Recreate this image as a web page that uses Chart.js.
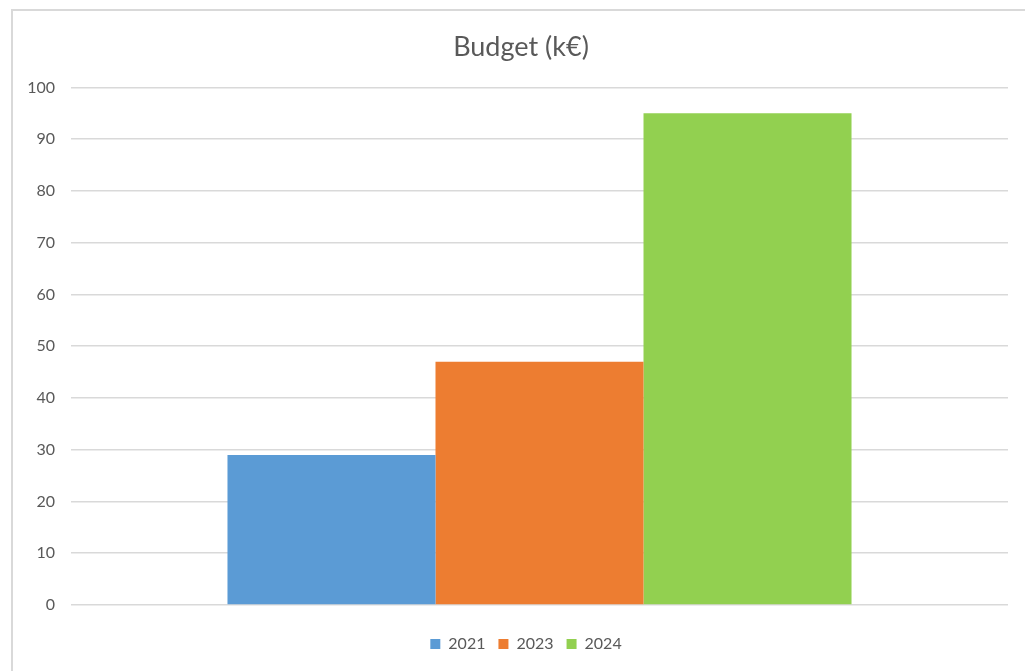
<!DOCTYPE html>
<html>
<head>
<meta charset="utf-8">
<script src="https://cdn.jsdelivr.net/npm/chart.js@4/dist/chart.umd.min.js"></script>
<style>
html,body{margin:0;padding:0;background:#fff;overflow:hidden;}
#frame{position:absolute;left:11px;top:9px;width:1100px;height:700px;border:2px solid #d9d9d9;box-sizing:border-box;}
#wrap{position:absolute;left:0;top:0;width:1025px;height:671px;}
</style>
</head>
<body>
<div id="frame"></div>
<div id="wrap"><canvas id="c" width="1025" height="671"></canvas></div>
<script>
const categories = [''];
const seriesNames = ['2021', '2023', '2024'];
const seriesValues = [[29], [47], [95]];
const seriesColors = ['#5B9BD5', '#ED7D31', '#92D050'];
const titleText = 'Budget (k€)';

const FONT = 'Lato, "Open Sans", sans-serif';
const datasets = seriesNames.map((n, i) => ({
  label: n,
  data: seriesValues[i],
  backgroundColor: seriesColors[i],
  borderWidth: 0,
  barPercentage: 1.0,
  categoryPercentage: 0.666
}));

const shiftBlocks = {
  id: 'shiftBlocks',
  afterLayout(chart) {
    if (chart.legend) { chart.legend.left += 22; chart.legend.right += 22; }
    if (chart.titleBlock) { chart.titleBlock.left += 17; chart.titleBlock.right += 17; }
  }
};

new Chart(document.getElementById('c'), {
  type: 'bar',
  data: { labels: categories, datasets },
  plugins: [shiftBlocks],
  options: {
    responsive: false,
    animation: false,
    layout: { padding: { left: 0, right: 17, top: 0, bottom: 9 } },
    plugins: {
      title: {
        display: true,
        text: titleText,
        color: '#595959',
        font: { family: FONT, size: 27, weight: 'normal' },
        padding: { top: 31, bottom: 24 }
      },
      legend: {
        position: 'bottom',
        labels: {
          color: '#595959',
          font: { family: FONT, size: 16 },
          boxWidth: 10,
          boxHeight: 10,
          padding: 13
        }
      },
      tooltip: { enabled: false }
    },
    scales: {
      x: {
        grid: { display: false },
        border: { display: false },
        ticks: { display: false },
        afterFit: (s) => { s.height = 18; }
      },
      y: {
        min: 0,
        max: 100,
        ticks: {
          stepSize: 10,
          color: '#595959',
          font: { family: FONT, size: 16 },
          padding: 16
        },
        grid: { color: '#d9d9d9', lineWidth: 1.5, drawTicks: false },
        border: { display: false },
        afterFit: (s) => { s.width = 71; }
      }
    }
  }
});
</script>
</body>
</html>
